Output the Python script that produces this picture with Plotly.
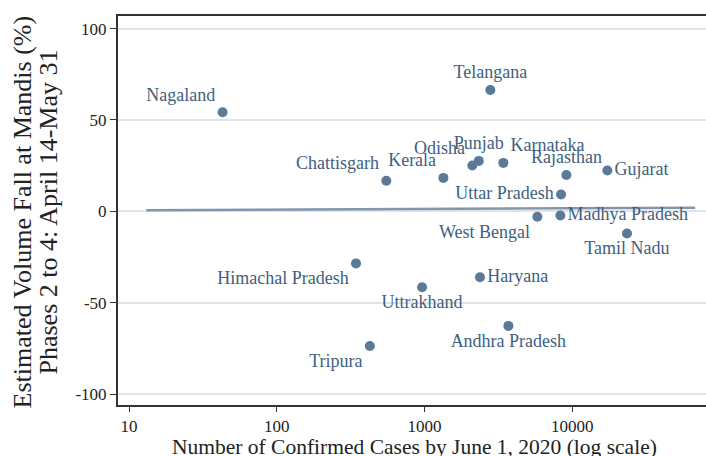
import plotly.graph_objects as go

states = ["Nagaland", "Telangana", "Chattisgarh", "Kerala", "Odisha", "Punjab",
          "Karnataka", "Rajasthan", "Gujarat", "Uttar Pradesh", "West Bengal",
          "Madhya Pradesh", "Tamil Nadu", "Himachal Pradesh", "Uttrakhand",
          "Haryana", "Andhra Pradesh", "Tripura"]
cases = [43, 2792, 552, 1343, 2109, 2334, 3420, 9140, 17300, 8410, 5810,
         8320, 23500, 344, 964, 2377, 3700, 427]
volume_fall = [54.2, 66.4, 16.7, 18.3, 25.1, 27.6, 26.5, 19.9, 22.3, 9.2, -3.0,
               -2.3, -12.1, -28.5, -41.6, -36.1, -62.7, -73.7]
label_pos = ["top left", "top center", "top left", "top left", "top left", "top center",
             "top right", "top center", "middle right", "middle left", "bottom left",
             "middle right", "bottom center", "bottom left", "bottom center",
             "middle right", "bottom center", "bottom left"]

fit_x = [13.1, 68000]
fit_y = [0.6, 2.0]

y_ticks = [-100, -50, 0, 50, 100]
y_tick_labels = ["-100", "-50", "0", "50", "100"]
x_ticks = [10, 100, 1000, 10000]
x_tick_labels = ["10", "100", "1000", "10000"]

SERIF = "Liberation Serif, Times New Roman, serif"
MARK = "#5a7a98"
TXT = "#3e5f80"
INK = "#222222"

fig = go.Figure()
fig.add_trace(go.Scatter(x=fit_x, y=fit_y, mode="lines",
                         line=dict(color="#7f97b0", width=2.5), hoverinfo="skip",
                         showlegend=False))
fig.add_trace(go.Scatter(x=cases, y=volume_fall, mode="markers+text", text=states,
                         textposition=label_pos,
                         textfont=dict(family=SERIF, size=18, color=TXT),
                         marker=dict(color=MARK, size=10), showlegend=False))

fig.update_layout(
    width=706, height=456,
    margin=dict(l=118, r=0, t=16, b=51),
    paper_bgcolor="white", plot_bgcolor="white",
    font=dict(family=SERIF, color=INK),
    xaxis=dict(type="log", range=[0.9255, 4.906], tickvals=x_ticks, ticktext=x_tick_labels,
               automargin=False,
               showgrid=False, zeroline=False, showline=True, linecolor="#333333",
               linewidth=2, mirror=True, ticks="outside", ticklen=5, tickcolor="#333333",
               tickfont=dict(size=17, family=SERIF, color=INK)),
    yaxis=dict(range=[-106, 106.9], tickvals=y_ticks, ticktext=y_tick_labels,
               automargin=False,
               showgrid=True, gridcolor="#e3e3e3",
               gridwidth=1.5, zeroline=False, showline=True, linecolor="#333333", linewidth=2,
               ticks="outside", ticklen=6, tickcolor="#333333",
               tickfont=dict(size=17, family=SERIF, color=INK)),
    annotations=[
        dict(text="Estimated Volume Fall at Mandis (%)", xref="paper", yref="paper",
             x=(22 - 118) / 588, y=(405 - 212.5) / 389, xanchor="center", yanchor="middle",
             textangle=-90, showarrow=False,
             font=dict(size=26, family=SERIF, color=INK)),
        dict(text="Phases 2 to 4: April 14-May 31", xref="paper", yref="paper",
             x=(48 - 118) / 588, y=(405 - 212.5) / 389, xanchor="center", yanchor="middle",
             textangle=-90, showarrow=False,
             font=dict(size=26, family=SERIF, color=INK)),
        dict(text="Number of Confirmed Cases by June 1, 2020 (log scale)", xref="paper",
             yref="paper", x=(414 - 118) / 588, y=(405 - 447) / 389,
             xanchor="center", yanchor="middle", showarrow=False,
             font=dict(size=21.5, family=SERIF, color=INK)),
    ],
)

fig.write_html("out.html", config={"displayModeBar": False},
               post_script="document.body.style.margin='0';")
